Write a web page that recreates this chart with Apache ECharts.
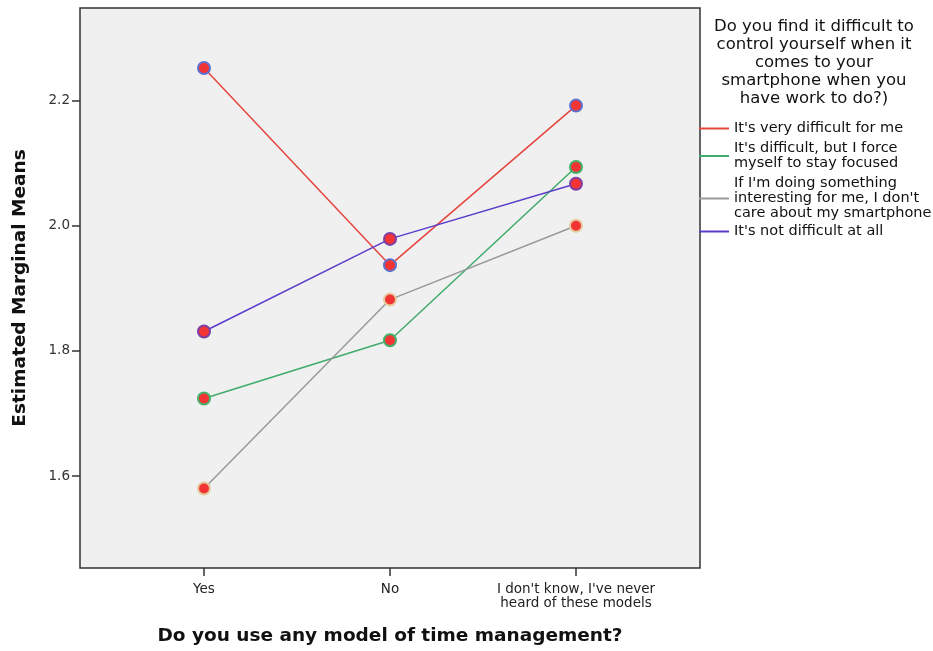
<!DOCTYPE html>
<html lang="en">
<head>
<meta charset="utf-8">
<title>Estimated Marginal Means</title>
<script src="https://cdn.jsdelivr.net/npm/echarts@6/dist/echarts.min.js"></script>
<style>
  html, body { margin: 0; padding: 0; background: #fff; }
  #main { width: 933px; height: 651px; }
</style>
</head>
<body>
<div id="main"></div>
<script>
// x categories (time management model)
var categories = ['Yes', 'No', "I don't know, I've never\nheard of these models"];
// y ticks
var yTicks = [1.6, 1.8, 2.0, 2.2];

// series: "Do you find it difficult to control yourself..."
var seriesNames = [
    "It's very difficult for me",
    "It's difficult, but I force myself to stay focused",
    "If I'm doing something interesting for me, I don't care about my smartphone",
    "It's not difficult at all"
];
var legendLabels = [
    "It's very difficult for me",
    "It's difficult, but I force\nmyself to stay focused",
    "If I'm doing something\ninteresting for me, I don't\ncare about my smartphone",
    "It's not difficult at all"
];
var veryDifficult = [2.252, 1.937, 2.192];
var difficultFocused = [1.724, 1.817, 2.094];
var interesting = [1.580, 1.882, 2.000];
var notDifficult = [1.831, 1.979, 2.067];

var lineColors = ['#e4453f', '#3fab6c', '#999999', '#5b3ccb'];
var borderColors = ['#6070cc', '#45b06a', '#e6c99c', '#7b3fa6'];
var seriesData = [veryDifficult, difficultFocused, interesting, notDifficult];

var chart = echarts.init(document.getElementById('main'));

var series = seriesData.map(function (vals, i) {
    return {
        name: seriesNames[i],
        type: 'line',
        data: vals.map(function (v, j) { return [j, v]; }),
        symbol: 'circle',
        symbolSize: 12,
        lineStyle: { color: lineColors[i], width: 1.5 },
        itemStyle: { color: '#f23434', borderColor: borderColors[i], borderWidth: 2 },
        emphasis: { disabled: true }
    };
});

var legendTops = [121, 141, 176, 224];
var legends = seriesNames.map(function (n, i) {
    return {
        left: 699,
        top: legendTops[i],
        padding: 0,
        orient: 'vertical',
        icon: 'rect',
        itemWidth: 30,
        itemHeight: 2,
        selectedMode: false,
        data: [{ name: n, itemStyle: { color: lineColors[i], borderWidth: 0 } }],
        formatter: function () { return legendLabels[i]; },
        textStyle: {
            fontFamily: 'DejaVu Sans',
            fontSize: 14.5,
            lineHeight: 15,
            color: '#111'
        }
    };
});

chart.setOption({
    backgroundColor: '#fff',
    animation: false,
    title: [{
        text: 'Do you find it difficult to\ncontrol yourself when it\ncomes to your\nsmartphone when you\nhave work to do?)',
        left: 814,
        top: 18,
        textAlign: 'center',
        padding: 0,
        textStyle: {
            fontFamily: 'DejaVu Sans',
            fontWeight: 'normal',
            fontSize: 16.5,
            lineHeight: 18,
            color: '#111'
        }
    }],
    legend: legends,
    grid: {
        left: 80,
        top: 8,
        width: 620,
        height: 561,
        show: true,
        backgroundColor: '#f0f0f0',
        borderColor: '#333',
        borderWidth: 1.5
    },
    xAxis: {
        type: 'value',
        min: -2 / 3,
        max: 8 / 3,
        name: 'Do you use any model of time management?',
        nameLocation: 'middle',
        nameGap: 59,
        nameTextStyle: {
            fontFamily: 'DejaVu Sans',
            fontWeight: 'bold',
            fontSize: 18.5,
            color: '#111'
        },
        axisLine: { show: false, onZero: false },
        splitLine: { show: false },
        axisTick: {
            customValues: [0, 1, 2],
            length: 8,
            lineStyle: { color: '#333', width: 1.5 }
        },
        axisLabel: {
            customValues: [0, 1, 2],
            formatter: function (v) { return categories[Math.round(v)]; },
            fontFamily: 'DejaVu Sans',
            fontSize: 13.5,
            lineHeight: 14,
            color: '#222',
            margin: 14
        }
    },
    yAxis: {
        type: 'value',
        min: 1.453,
        max: 2.348,
        name: 'Estimated Marginal Means',
        nameLocation: 'middle',
        nameGap: 50,
        nameTextStyle: {
            fontFamily: 'DejaVu Sans',
            fontWeight: 'bold',
            fontSize: 18.5,
            color: '#111'
        },
        axisLine: { show: false, onZero: false },
        splitLine: { show: false },
        axisTick: {
            customValues: yTicks,
            length: 8,
            lineStyle: { color: '#333', width: 1.5 }
        },
        axisLabel: {
            customValues: yTicks,
            formatter: function (v) { return v.toFixed(1); },
            fontFamily: 'DejaVu Sans',
            fontSize: 13.5,
            color: '#333',
            margin: 10
        }
    },
    series: series
});
</script>
</body>
</html>
